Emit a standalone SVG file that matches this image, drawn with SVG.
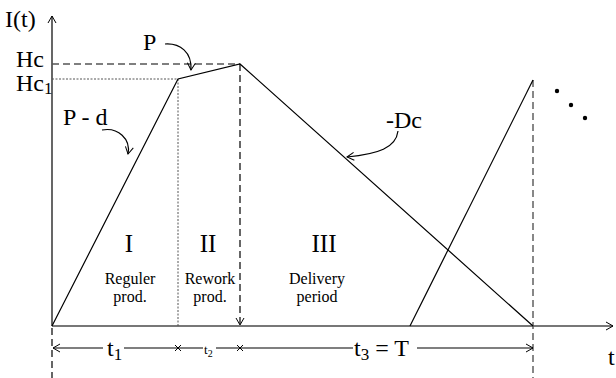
<svg xmlns="http://www.w3.org/2000/svg" width="616" height="378" viewBox="0 0 616 378" font-family="Liberation Serif, Times New Roman, serif">
<style>
text{font-family:"Liberation Serif","Times New Roman",serif;fill:#000}
.big{font-size:24px}
.num{font-size:25px}
.sm{font-size:16px}
.ln{stroke:#000;stroke-width:1.2;fill:none}
.dash{stroke:#555;stroke-width:1.4;stroke-dasharray:7,4;fill:none}
.dot{stroke:#555;stroke-width:1;stroke-dasharray:2,1.5;fill:none}
</style>
<defs>
<marker id="ah" markerWidth="10" markerHeight="10" refX="8" refY="5" orient="auto-start-reverse" markerUnits="userSpaceOnUse">
<path d="M1,1 L8,5 L1,9" fill="none" stroke="#000" stroke-width="1"/>
</marker>
</defs>
<g id="axes">
<line x1="52" y1="326" x2="52" y2="16" class="ln" stroke-width="1" marker-end="url(#ah)"/>
<line x1="52" y1="326" x2="613" y2="326" stroke="#777" stroke-width="2" marker-end="url(#ah)"/>
<text x="5" y="27" class="big">I(t)</text>
<text x="608" y="365" class="big">t</text>
</g>
<g id="guides">
<line x1="52" y1="64" x2="240" y2="64" class="dash"/>
<line x1="52" y1="79" x2="178" y2="79" class="dot"/>
<line x1="178" y1="79" x2="178" y2="326" class="dot"/>
<line x1="240" y1="64" x2="240" y2="325" stroke="#000" stroke-width="1.2" stroke-dasharray="7,4" marker-end="url(#ah)"/>
<line x1="533" y1="80" x2="533" y2="378" class="dash"/>
<line x1="52" y1="328" x2="52" y2="378" stroke="#000" stroke-width="1.2" stroke-dasharray="7,4"/>
<text x="16" y="67" class="big">Hc</text>
<text x="16" y="91" class="big">Hc<tspan font-size="17" dy="3">1</tspan></text>
</g>
<g id="inventory">
<polyline points="52,326 178,79 240,64 533,326" class="ln"/>
<line x1="410" y1="326" x2="533" y2="80" class="ln"/>
<circle cx="557" cy="91" r="2.2" fill="#000"/>
<circle cx="571" cy="105" r="2.2" fill="#000"/>
<circle cx="585" cy="118" r="2.2" fill="#000"/>
</g>
<g id="labels">
<text x="143" y="50" class="big">P</text>
<path d="M165,44 C180,43 192,52 191,70" class="ln" stroke-width="1" marker-end="url(#ah)"/>
<text x="63" y="125" class="big">P - d</text>
<path d="M102,130 C118,127 131,139 128,154" class="ln" stroke-width="1" marker-end="url(#ah)"/>
<text x="386" y="128" class="big">-Dc</text>
<path d="M398,131 C396,148 378,154 347,157" class="ln" stroke-width="1" marker-end="url(#ah)"/>
</g>
<g id="regions">
<text x="129" y="252" class="num" text-anchor="middle">I</text>
<text x="130" y="284" class="sm" text-anchor="middle">Reguler</text>
<text x="130" y="302" class="sm" text-anchor="middle">prod.</text>
<text x="208" y="252" class="num" text-anchor="middle">II</text>
<text x="210" y="284" class="sm" text-anchor="middle">Rework</text>
<text x="210" y="302" class="sm" text-anchor="middle">prod.</text>
<text x="324" y="252" class="num" text-anchor="middle">III</text>
<text x="317" y="284" class="sm" text-anchor="middle">Delivery</text>
<text x="317" y="302" class="sm" text-anchor="middle">period</text>
</g>
<g id="dimension">
<line x1="53" y1="348" x2="103" y2="348" class="ln" stroke-width="1" marker-start="url(#ah)"/>
<line x1="124" y1="348" x2="203" y2="348" class="ln" stroke-width="1"/>
<line x1="216" y1="348" x2="353" y2="348" class="ln" stroke-width="1"/>
<line x1="417" y1="348" x2="533" y2="348" class="ln" stroke-width="1" marker-end="url(#ah)"/>
<path d="M175,345 L181,351 M181,345 L175,351 M237,345 L243,351 M243,345 L237,351" stroke="#000" stroke-width="1"/>
<text x="107" y="356" class="big">t<tspan font-size="17" dy="4">1</tspan></text>
<text x="204" y="354" font-size="13">t<tspan font-size="10" dy="3">2</tspan></text>
<text x="354" y="356" class="big">t<tspan font-size="17" dy="4">3</tspan><tspan dy="-4"> = T</tspan></text>
</g>
</svg>
